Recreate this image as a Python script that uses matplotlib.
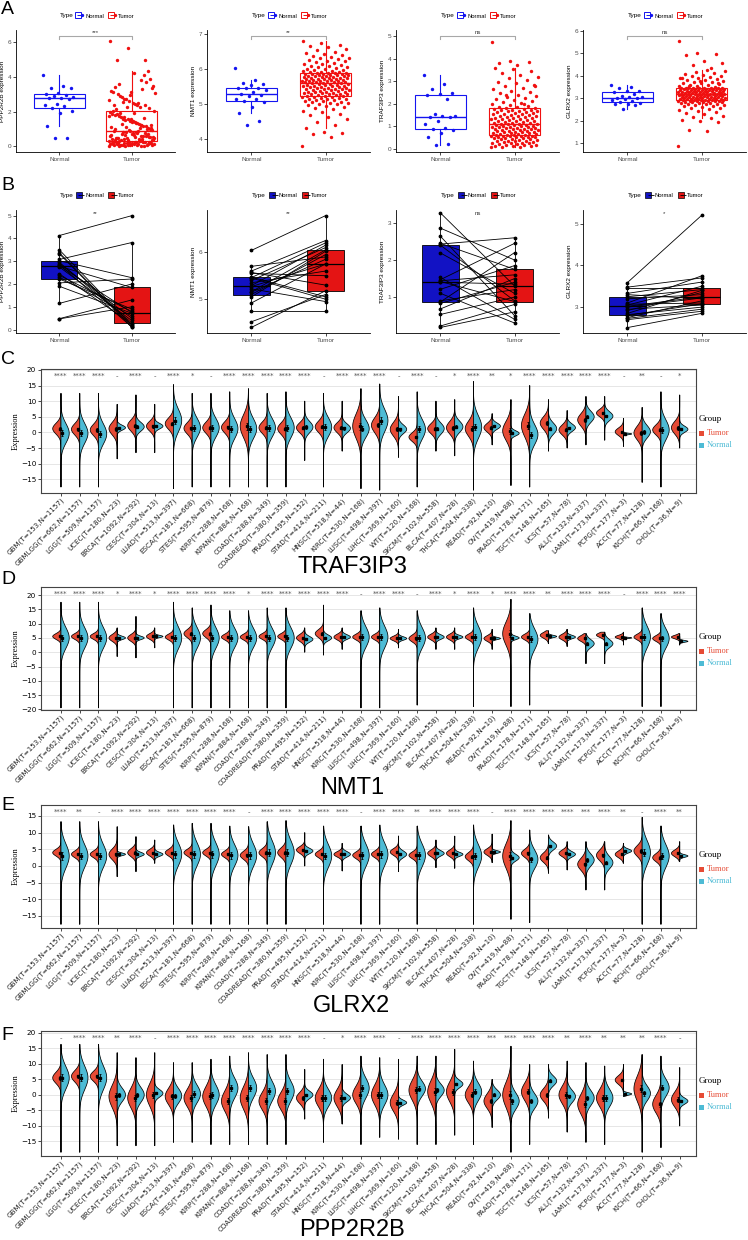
import numpy as np
import matplotlib.pyplot as plt
import matplotlib.transforms as mtrans
from matplotlib.lines import Line2D
from matplotlib.patches import Rectangle
from matplotlib.legend_handler import HandlerTuple

plt.rcParams['font.family'] = ['Liberation Sans', 'DejaVu Sans']

# ---------------- panels A / B : one cancer, normal vs tumor ----------------
groups = ['Normal', 'Tumor']

ppp_normal = [4.13, 3.5, 3.37, 3.33, 3.08, 3.02, 2.95, 2.9, 2.85, 2.8, 2.78,
              2.75, 2.45, 2.38, 2.3, 2.22, 2.05, 1.9, 1.15, 0.47, 0.48]
ppp_paired = [5.0, 0.2, 0.15, 0.1, 3.82, 2.28, 0.3, 0.5, 0.12, 0.75, 1.85,
              0.4, 0.25, 0.8, 0.6, 0.9, 2.22, 0.72, 2.0, 1.0, 1.3]
ppp_tumor = [
    0.02, 0.05, 0.03, 0.11, 0.08, 0.15, 0.04, 0.19, 0.07, 0.22, 0.12, 0.26, 0.09, 0.14, 0.28, 0.06, 0.17, 0.21, 0.10, 0.24,
    0.01, 0.13, 0.27, 0.18, 0.05, 0.23, 0.16, 0.29, 0.08, 0.20, 0.12, 0.25, 0.03, 0.19, 0.30, 0.14, 0.07, 0.22, 0.11, 0.26,
    0.33, 0.41, 0.36, 0.52, 0.47, 0.58, 0.39, 0.66, 0.44, 0.71, 0.55, 0.79, 0.35, 0.62, 0.85, 0.49, 0.74, 0.31, 0.68, 0.88,
    0.43, 0.57, 0.82, 0.38, 0.64, 0.50, 0.77, 0.46, 0.60, 0.86, 0.34, 0.53, 0.72, 0.90, 0.42, 0.67, 0.56, 0.80, 0.48, 0.63,
    0.95, 1.12, 1.03, 1.31, 1.20, 1.48, 0.98, 1.62, 1.09, 1.77, 1.36, 1.90, 1.05, 1.55, 2.02, 1.25, 1.70, 0.93, 1.42, 1.84,
    1.15, 1.58, 1.97, 1.28, 1.67, 1.01, 1.39, 1.80, 1.18, 1.51, 2.06, 1.33, 1.73, 0.97, 1.45, 1.88, 1.22, 1.60, 1.07, 1.94,
    2.15, 2.40, 2.28, 2.65, 2.52, 2.90, 2.20, 3.10, 2.35, 3.30, 2.75, 3.50, 2.45, 3.00, 3.70, 2.60, 3.20, 2.25, 2.85, 3.90,
    2.50, 3.40, 4.10, 2.70, 3.05, 2.38, 3.60, 4.35, 2.95, 3.15, 3.80, 2.55, 3.35, 4.25, 5.00, 4.98, 5.68, 6.08]

nmt1_normal = [6.04, 5.7, 5.6, 5.57, 5.55, 5.47, 5.46, 5.45, 5.4, 5.35, 5.29,
               5.27, 5.22, 5.16, 5.15, 5.1, 5.05, 4.92, 4.75, 4.52, 4.4]
nmt1_paired = [6.78, 5.9, 6.25, 5.3, 5.5, 5.05, 6.2, 5.0, 6.1, 5.6, 6.15,
               5.75, 4.95, 6.05, 5.85, 5.95, 6.02, 5.75, 4.75, 5.1, 5.18]
nmt1_tumor = [
    3.80, 4.05, 4.15, 4.18, 4.20, 4.32, 4.41, 4.50, 4.57, 4.63, 4.68, 4.72, 4.77, 4.81, 4.85, 4.88, 4.91, 4.94, 4.97, 4.99,
    5.00, 5.02, 5.04, 5.06, 5.07, 5.08, 5.10, 5.11, 5.13, 5.14, 5.15, 5.16, 5.17, 5.18, 5.19, 5.20, 5.21, 5.22, 5.23, 5.24,
    5.26, 5.27, 5.28, 5.29, 5.29, 5.30, 5.31, 5.32, 5.33, 5.34, 5.35, 5.36, 5.36, 5.37, 5.38, 5.39, 5.40, 5.41, 5.42, 5.43,
    5.44, 5.44, 5.45, 5.46, 5.47, 5.48, 5.49, 5.50, 5.51, 5.51, 5.52, 5.53, 5.54, 5.55, 5.56, 5.57, 5.57, 5.58, 5.59, 5.60,
    5.61, 5.62, 5.63, 5.63, 5.64, 5.65, 5.65, 5.66, 5.67, 5.67, 5.68, 5.69, 5.70, 5.71, 5.71, 5.72, 5.73, 5.74, 5.74, 5.75,
    5.76, 5.77, 5.78, 5.78, 5.79, 5.80, 5.81, 5.81, 5.82, 5.83, 5.84, 5.84, 5.85, 5.86, 5.86, 5.87, 5.88, 5.88, 5.89, 5.90,
    5.91, 5.92, 5.93, 5.95, 5.96, 5.97, 5.99, 6.00, 6.01, 6.03, 6.05, 6.06, 6.08, 6.10, 6.12, 6.14, 6.15, 6.18, 6.20, 6.22,
    6.23, 6.26, 6.29, 6.31, 6.32, 6.35, 6.38, 6.41, 6.44, 6.47, 6.50, 6.54, 6.58, 6.62, 6.66, 6.70, 6.75, 6.80]

traf_normal = [3.27, 2.86, 2.64, 2.45, 2.43, 2.4, 2.19, 1.53, 1.47, 1.44, 1.42,
               1.4, 1.21, 1.1, 0.9, 0.87, 0.83, 0.68, 0.53, 0.22, 0.18]
traf_paired = [1.3, 2.0, 0.5, 1.75, 2.6, 0.9, 1.1, 0.4, 2.45, 1.6, 0.88,
               1.35, 1.85, 0.3, 1.2, 2.2, 1.4, 1.5, 1.0, 0.8, 0.6]
traf_tumor = [
    0.05, 0.07, 0.08, 0.10, 0.12, 0.13, 0.15, 0.16, 0.18, 0.20, 0.21, 0.23, 0.24, 0.26, 0.27, 0.29, 0.30, 0.32, 0.33, 0.35,
    0.36, 0.38, 0.39, 0.41, 0.42, 0.44, 0.45, 0.47, 0.48, 0.50, 0.51, 0.52, 0.53, 0.54, 0.55, 0.56, 0.57, 0.58, 0.59, 0.60,
    0.61, 0.62, 0.64, 0.65, 0.66, 0.68, 0.69, 0.70, 0.72, 0.73, 0.74, 0.76, 0.77, 0.78, 0.80, 0.81, 0.82, 0.84, 0.85, 0.86,
    0.88, 0.89, 0.90, 0.92, 0.93, 0.94, 0.96, 0.97, 0.98, 1.00, 1.01, 1.02, 1.04, 1.05, 1.06, 1.08, 1.09, 1.10, 1.11, 1.12,
    1.14, 1.16, 1.17, 1.19, 1.21, 1.23, 1.24, 1.26, 1.28, 1.30, 1.31, 1.33, 1.35, 1.37, 1.38, 1.40, 1.42, 1.44, 1.45, 1.47,
    1.49, 1.51, 1.52, 1.54, 1.56, 1.58, 1.59, 1.61, 1.63, 1.65, 1.66, 1.68, 1.70, 1.72, 1.73, 1.75, 1.77, 1.79, 1.81, 1.83,
    1.86, 1.90, 1.94, 1.98, 2.02, 2.06, 2.10, 2.15, 2.20, 2.25, 2.30, 2.35, 2.40, 2.46, 2.52, 2.58, 2.64, 2.70, 2.77, 2.84,
    2.91, 2.98, 3.05, 3.12, 3.20, 3.28, 3.36, 3.44, 3.52, 3.58, 2.00, 2.40, 2.80, 3.72, 3.80, 3.85, 3.90, 4.75]

glrx_normal = [3.59, 3.48, 3.45, 3.33, 3.3, 3.25, 3.2, 3.1, 3.07, 3.05, 3.02,
               3.0, 2.95, 2.92, 2.85, 2.82, 2.8, 2.75, 2.73, 2.7, 2.51]
glrx_paired = [5.2, 3.7, 3.45, 3.6, 3.2, 3.42, 3.3, 3.75, 3.1, 3.5, 3.25,
               3.22, 3.05, 3.35, 3.4, 3.0, 3.08, 3.15, 2.95, 2.9, 2.85]
glrx_tumor = [
    0.85, 1.55, 1.60, 1.95, 2.00, 2.03, 2.10, 2.16, 2.22, 2.28, 2.33, 2.38, 2.43, 2.47, 2.51, 2.55, 2.58, 2.61, 2.64, 2.66,
    2.68, 2.70, 2.72, 2.74, 2.75, 2.77, 2.78, 2.80, 2.81, 2.82, 2.83, 2.84, 2.85, 2.86, 2.87, 2.88, 2.88, 2.89, 2.90, 2.90,
    2.91, 2.92, 2.92, 2.93, 2.94, 2.95, 2.95, 2.96, 2.97, 2.98, 2.98, 2.99, 3.00, 3.01, 3.01, 3.02, 3.03, 3.04, 3.04, 3.05,
    3.06, 3.07, 3.07, 3.08, 3.09, 3.10, 3.10, 3.11, 3.12, 3.13, 3.13, 3.14, 3.15, 3.15, 3.16, 3.16, 3.17, 3.17, 3.18, 3.18,
    3.19, 3.20, 3.20, 3.21, 3.22, 3.23, 3.23, 3.24, 3.25, 3.26, 3.26, 3.27, 3.28, 3.29, 3.29, 3.30, 3.31, 3.32, 3.32, 3.33,
    3.34, 3.35, 3.35, 3.36, 3.37, 3.38, 3.38, 3.39, 3.40, 3.41, 3.41, 3.42, 3.43, 3.43, 3.44, 3.44, 3.45, 3.45, 3.45, 3.45,
    3.47, 3.50, 3.52, 3.55, 3.57, 3.60, 3.62, 3.65, 3.68, 3.70, 3.73, 3.76, 3.79, 3.82, 3.85, 3.88, 3.91, 3.94, 3.97, 4.00,
    4.04, 4.08, 4.12, 4.16, 4.20, 4.24, 3.53, 3.66, 3.75, 3.90, 4.35, 4.45, 4.55, 4.65, 4.90, 4.95, 5.00, 5.55]

# ---------------- panels C-F : pan-cancer split violins ----------------
cancers = ['GBM(T=153,N=1157)', 'GBMLGG(T=662,N=1157)', 'LGG(T=509,N=1157)', 'UCEC(T=180,N=23)',
           'BRCA(T=1092,N=292)', 'CESC(T=304,N=13)', 'LUAD(T=513,N=397)', 'ESCA(T=181,N=668)',
           'STES(T=595,N=879)', 'KIRP(T=288,N=168)', 'KIPAN(T=884,N=168)', 'COAD(T=288,N=349)',
           'COADREAD(T=380,N=359)', 'PRAD(T=495,N=152)', 'STAD(T=414,N=211)', 'HNSC(T=518,N=44)',
           'KIRC(T=530,N=168)', 'LUSC(T=498,N=397)', 'LIHC(T=369,N=160)', 'WT(T=120,N=168)',
           'SKCM(T=102,N=558)', 'BLCA(T=407,N=28)', 'THCA(T=504,N=338)', 'READ(T=92,N=10)',
           'OV(T=419,N=88)', 'PAAD(T=178,N=171)', 'TGCT(T=148,N=165)', 'UCS(T=57,N=78)',
           'ALL(T=132,N=337)', 'LAML(T=173,N=337)', 'PCPG(T=177,N=3)', 'ACC(T=77,N=128)',
           'KICH(T=66,N=168)', 'CHOL(T=36,N=9)']

# centre and half-height of each half violin, plus the tail range per cancer
traf_t_mu = [1.2, 1.0, 0.8, 1.2, 2.2,  2.0, 2.8, 1.3, 1.5, 1.6,  2.0, 1.5, 1.2, 1.5, 1.8,  1.5, 2.0, 2.3, 1.0, -1.5,
             1.2, 1.5, 1.2, 1.5, 0.5,  2.2, 3.0, 0.8, 4.0, 6.2,  0.2, -0.2, 0.8, 1.5]
traf_t_spr = [4.3, 4.5, 4.5, 5.0, 4.5,  4.0, 4.5, 4.5, 4.5, 4.5,  9.0, 4.5, 4.5, 4.0, 4.5,  4.0, 9.5, 6.0, 5.5, 3.5,
              4.0, 5.0, 6.0, 3.5, 7.5,  9.0, 5.0, 4.0, 5.0, 3.0,  3.0, 5.5, 4.0, 5.0]
traf_n_mu = [-0.3, -0.3, -0.5, 1.5, 1.8,  2.0, 3.8, 1.5, 1.5, 1.2,  1.2, 1.5, 1.5, 1.7, 1.7,  1.3, 1.2, 3.8, 1.0, 1.0,
             1.2, 1.8, 1.7, 2.0, -0.3,  -0.7, 1.2, 1.5, 5.0, 5.2,  -0.5, 0.2, 0.8, 1.0]
traf_n_spr = [7.8, 8.0, 8.0, 2.0, 3.5,  2.2, 9.0, 7.5, 7.5, 8.0,  8.0, 7.5, 8.0, 4.5, 7.5,  3.5, 7.0, 9.0, 3.5, 8.0,
              4.5, 4.5, 9.0, 2.5, 2.0,  8.0, 4.5, 3.0, 4.5, 3.5,  0.6, 5.0, 8.0, 2.5]
traf_lo = [-17.5, -17.5, -17.5, -8.5, -6.5,  -6.5, -18.0, -17.5, -17.5, -17.5,  -17.5, -17.5, -17.5, -9.0, -17.5,
           -6.0, -18.0, -18.5, -8.0, -17.5,  -6.0, -7.5, -18.5, -4.0, -17.0,  -17.5, -6.0, -5.0, -4.0, -2.5,
           -4.5, -16.0, -17.5, -5.0]
traf_hi = [12.5, 12.5, 12.5, 9.0, 12.0,  9.0, 15.3, 12.5, 12.5, 13.0,  14.0, 12.5, 13.0, 10.0, 12.5,
           10.0, 14.0, 15.5, 11.5, 13.0,  10.0, 10.5, 16.3, 6.0, 10.5,  15.0, 10.5, 7.0, 11.5, 11.5,
           4.5, 8.0, 13.0, 12.0]
traf_sig = ['****', '****', '****', '-', '****', '-', '****', '*', '-', '****',
            '****', '****', '****', '****', '-', '****', '****', '****', '-', '****',
            '-', '*', '****', '**', '*', '****', '****', '****', '****', '****',
            '-', '**', '-', '*']

nmt1_t_mu = [5.5, 5.5, 5.5, 5.0, 5.0,  5.5, 5.3, 6.5, 6.5, 5.3,  5.3, 5.5, 5.5, 5.0, 6.5,  5.3, 5.3, 5.3, 4.8, 4.8,
             5.3, 5.3, 5.3, 4.8, 6.5,  5.3, 5.9, 5.3, 4.8, 6.0,  5.3, 5.3, 4.8, 5.3]
nmt1_t_spr = [2.5, 2.5, 2.5, 3.0, 3.0,  2.5, 2.5, 3.5, 3.5, 2.5,  2.5, 2.5, 2.5, 3.0, 3.5,  2.5, 2.5, 2.5, 2.0, 3.0,
              2.5, 2.5, 2.5, 2.5, 10.0,  2.5, 2.5, 2.5, 2.5, 2.0,  1.5, 2.5, 2.5, 1.5]
nmt1_n_mu = [5.0, 5.0, 5.0, 5.0, 5.0,  5.5, 5.0, 5.0, 5.0, 5.0,  5.0, 5.0, 5.0, 4.5, 5.0,  5.3, 5.3, 5.3, 4.8, 5.0,
             5.3, 5.3, 5.3, 4.8, 5.0,  4.5, 5.5, 5.3, 3.0, 3.0,  5.0, 5.3, 4.8, 3.8]
nmt1_n_spr = [9.0, 9.0, 9.0, 1.5, 1.5,  1.0, 9.5, 9.0, 9.0, 8.5,  8.5, 8.5, 9.0, 2.5, 2.5,  2.0, 9.0, 9.5, 1.5, 9.0,
              2.0, 1.5, 9.5, 1.0, 1.5,  9.0, 1.0, 1.5, 3.5, 3.5,  0.5, 9.5, 8.5, 0.8]
nmt1_lo = [-19.5, -19.5, -19.5, -1.5, -2.0,  1.5, -19.5, -19.5, -19.5, -19.5,  -19.5, -19.5, -19.5, 0.0, -1.0,
           1.0, -19.5, -19.5, 1.5, -18.5,  1.0, 1.0, -19.0, 1.0, -19.0,  -18.5, 3.0, 2.0, -4.0, -4.0,
           2.5, -19.0, -19.0, 2.5]
nmt1_hi = [17.5, 17.5, 17.5, 8.5, 12.5,  8.5, 17.5, 15.5, 16.5, 14.5,  14.5, 15.5, 15.5, 8.5, 16.5,
           8.5, 14.5, 15.5, 8.0, 14.5,  8.5, 8.5, 15.5, 8.0, 18.5,  13.5, 7.5, 8.0, 6.5, 7.0,
           7.0, 15.5, 13.5, 6.5]
nmt1_sig = ['****', '****', '****', '*', '****', '*', '****', '****', '****', '****',
            '*', '****', '****', '****', '****', '****', '-', '****', '****', '-',
            '****', '*', '****', '*', '****', '****', '**', '****', '****', '****',
            '-', '****', '****', '****']

glrx_t_mu = [4.0, 3.5, 3.5, 3.5, 4.0,  4.0, 4.0, 4.0, 4.0, 3.5,  3.2, 4.0, 4.0, 4.8, 3.5,  3.5, 3.2, 3.5, 4.2, 3.2,
             3.8, 3.8, 2.8, 4.2, 3.0,  3.8, 2.5, 3.8, 0.5, 3.2,  3.5, 4.5, 2.5, 3.8]
glrx_t_spr = [2.5, 2.5, 2.5, 4.0, 3.0,  2.5, 2.5, 2.5, 2.5, 2.5,  3.0, 3.0, 3.5, 2.5, 2.5,  2.0, 2.5, 2.5, 2.5, 2.5,
              2.5, 2.5, 3.0, 2.5, 9.0,  3.0, 3.5, 2.5, 4.5, 4.0,  2.5, 4.0, 3.0, 2.5]
glrx_n_mu = [3.0, 3.0, 3.0, 3.5, 3.5,  3.5, 3.5, 3.5, 3.5, 3.2,  3.2, 4.0, 4.0, 4.5, 3.0,  3.5, 3.2, 3.5, 3.5, 3.2,
             3.8, 3.5, 3.0, 4.2, 2.5,  2.0, 6.0, 3.5, 1.8, 1.0,  4.5, 4.0, 3.0, 3.0]
glrx_n_spr = [9.0, 8.5, 8.5, 1.0, 1.5,  1.5, 8.5, 8.5, 8.5, 8.0,  8.5, 9.0, 9.0, 2.0, 8.5,  2.0, 8.5, 8.5, 2.5, 8.5,
              2.0, 1.5, 8.5, 1.0, 2.5,  7.0, 3.0, 2.0, 4.5, 4.5,  1.5, 9.0, 8.5, 1.0]
glrx_lo = [-17.5, -17.5, -17.5, -3.2, -1.7,  0.8, -17.5, -17.5, -17.5, -17.5,  -17.5, -17.5, -17.5, 0.0, -17.5,
           -1.5, -17.5, -17.5, -1.7, -17.5,  -0.5, -0.7, -17.5, 1.0, -16.0,  -17.0, -2.2, -1.2, -7.2, -7.2,
           0.8, -17.5, -17.5, 1.3]
glrx_hi = [13.3, 13.3, 13.3, 11.8, 8.8,  7.8, 12.3, 12.8, 12.8, 12.0,  11.8, 13.3, 13.6, 10.0, 12.0,
           6.8, 12.0, 12.3, 9.0, 12.0,  7.8, 9.0, 12.3, 9.6, 13.6,  10.8, 9.3, 7.3, 7.3, 7.3,
           6.8, 14.6, 12.0, 7.3]
glrx_sig = ['****', '**', '-', '****', '****', '****', '****', '****', '****', '****',
            '-', '****', '****', '****', '****', '****', '-', '****', '****', '**',
            '****', '****', '****', '-', '****', '****', '****', '****', '***', '****',
            '**', '-', '****', '**']

ppp_t_mu = [5.5, 6.0, 6.0, -0.5, -1.0,  0.0, -0.5, -1.0, -0.5, -2.0,  -1.0, -2.0, -2.0, -1.0, -1.0,
            -1.0, 0.0, 0.0, -2.5, 1.5,  1.0, 1.0, 0.0, -2.0, 0.0,  1.0, 0.0, 0.0, -3.0, -1.0,
            4.8, 2.0, -3.0, -1.5]
ppp_t_spr = [4.5, 4.5, 4.0, 9.0, 8.0,  9.0, 6.5, 7.0, 8.0, 8.0,  9.0, 7.0, 7.0, 4.5, 7.0,  7.0, 7.0, 8.0, 7.0, 8.0,
             9.0, 8.0, 6.5, 6.0, 10.0,  7.0, 5.0, 7.0, 8.0, 7.0,  3.5, 10.0, 7.0, 6.0]
ppp_n_mu = [5.5, 5.5, 5.5, 0.0, 0.0,  0.5, -0.3, 0.3, 0.0, 2.2,  2.2, 1.2, 1.2, 0.0, -1.0,  -1.0, 2.2, 0.0, -2.5, 2.0,
            1.5, 3.5, 1.0, 0.0, -2.0,  -2.0, 4.5, -0.5, -1.0, -1.0,  0.3, 0.5, 2.3, -2.0]
ppp_n_spr = [9.0, 9.5, 9.5, 5.5, 6.0,  3.0, 6.0, 7.0, 8.0, 8.0,  8.0, 8.0, 8.0, 3.0, 7.0,  3.0, 8.0, 8.0, 2.0, 6.0,
             5.0, 3.0, 7.0, 4.0, 6.5,  6.0, 4.0, 5.0, 6.0, 7.0,  1.0, 6.0, 7.0, 2.5]
ppp_lo = [-18.5, -18.5, -18.5, -16.4, -16.4,  -16.4, -15.3, -15.3, -16.0, -16.0,  -16.0, -16.0, -16.0, -7.8, -15.3,
          -9.4, -16.0, -13.7, -14.3, -16.0,  -16.0, -13.0, -16.0, -10.5, -18.5,  -16.0, -7.5, -12.0, -15.3, -16.0,
          -0.5, -18.5, -17.0, -10.0]
ppp_hi = [16.3, 16.3, 16.3, 13.6, 12.0,  13.6, 10.4, 10.4, 11.5, 12.5,  13.6, 13.0, 13.0, 8.2, 11.5,
          9.8, 12.5, 12.0, 11.5, 12.5,  12.5, 14.7, 10.9, 5.0, 15.7,  9.8, 9.8, 10.9, 10.4, 9.3,
          9.8, 13.0, 12.5, 8.8]
ppp_sig = ['-', '****', '****', '**', '****', '-', '****', '****', '****', '****',
           '****', '****', '****', '****', '-', '*', '****', '****', '-', '****',
           '****', '****', '****', '***', '****', '****', '****', '**', '****', '**',
           '**', '**', '****', '-']

# ---------------- drawing ----------------
W, H = 748, 1240
fig = plt.figure(figsize=(W / 100, H / 100), dpi=100)

BLUE, RED = '#1414F0', '#F01010'
BBLUE, BRED = '#1212C4', '#E41414'
VRED, VBLUE = '#E64B35', '#4DBBD5'


def add_ax(l, t, r, b):
    return fig.add_axes([l / W, 1 - b / H, (r - l) / W, (b - t) / H])


def style_ab(ax, gene, ylim, yticks):
    ax.set_xlim(0.4, 2.6)
    ax.set_ylim(*ylim)
    ax.set_yticks(yticks)
    ax.set_xticks([1, 2])
    ax.set_xticklabels(groups)
    for s in ['top', 'right']:
        ax.spines[s].set_visible(False)
    for s in ['left', 'bottom']:
        ax.spines[s].set_linewidth(0.6)
    ax.tick_params(length=2, width=0.5, labelsize=4.6, pad=1.5, labelcolor='#4D4D4D')
    ax.set_ylabel(gene + ' expression', fontsize=4.6, labelpad=1.5)


def type_legend(ax, handles):
    ax.text(0.32, 1.115, 'Type', transform=ax.transAxes, fontsize=4.6, ha='center', va='center')
    ax.legend(handles, groups, handler_map={tuple: HandlerTuple(ndivide=None)}, ncol=2,
              loc='center', bbox_to_anchor=(0.565, 1.115), frameon=False, fontsize=4.2,
              handlelength=1.0, handletextpad=0.4, columnspacing=1.0, borderpad=0, borderaxespad=0)


def panel_a(ax, normal, tumor, gene, sig, ylim, yticks, br_y):
    bp = ax.boxplot([normal, tumor], positions=[1, 2], widths=0.7, showfliers=False,
                    showcaps=False, patch_artist=True, whis=1.5)
    for k, c in enumerate([BLUE, RED]):
        bp['boxes'][k].set(facecolor='none', edgecolor=c, linewidth=0.8)
        bp['medians'][k].set(color=c, linewidth=1.0)
        for w in bp['whiskers'][2 * k:2 * k + 2]:
            w.set(color=c, linewidth=0.8)
    for k, (vals, c, jw) in enumerate([(normal, BLUE, 0.22), (tumor, RED, 0.32)]):
        jit = ((np.arange(len(vals)) * 0.6180339887) % 1.0 - 0.5) * 2 * jw
        ax.scatter(k + 1 + jit, vals, s=6, color=c, lw=0, zorder=3)
    tick = 0.025 * (ylim[1] - ylim[0])
    ax.plot([1, 1, 2, 2], [br_y - tick, br_y, br_y, br_y - tick], color='#A8A8A8', lw=0.8)
    ax.text(1.5, br_y + tick * 0.2, sig, ha='center', va='bottom', fontsize=4.3, color='#333333')
    style_ab(ax, gene, ylim, yticks)
    hs = [(Line2D([], [], marker='s', ms=4.5, mfc='white', mec=c, mew=0.7, ls=''),
           Line2D([], [], marker='_', ms=4.5, color=c, mew=0.7, ls=''),
           Line2D([], [], marker='o', ms=1.4, color=c, ls='')) for c in [BLUE, RED]]
    type_legend(ax, hs)


def panel_b(ax, normal, tumor, gene, sig, ylim, yticks):
    bp = ax.boxplot([normal, tumor], positions=[1, 2], widths=0.5, showfliers=False,
                    showcaps=False, patch_artist=True, whis=1.5)
    for k, c in enumerate([BBLUE, BRED]):
        bp['boxes'][k].set(facecolor=c, edgecolor='black', linewidth=0.6)
        bp['medians'][k].set(color='black', linewidth=0.9)
    for w in bp['whiskers']:
        w.set(color='black', linewidth=0.6)
    for a, b in zip(normal, tumor):
        ax.plot([1, 2], [a, b], color='black', lw=0.6, zorder=3)
    ax.scatter(np.ones(len(normal)), normal, s=3, color='black', zorder=4)
    ax.scatter(np.full(len(tumor), 2.0), tumor, s=3, color='black', zorder=4)
    tr = mtrans.blended_transform_factory(ax.transData, ax.transAxes)
    ax.text(1.5, 0.99, sig, transform=tr, ha='center', va='top', fontsize=4.3, color='#333333')
    style_ab(ax, gene, ylim, yticks)
    hs = [(Line2D([], [], marker='s', ms=4.5, mfc=c, mec='black', mew=0.5, ls=''),
           Line2D([], [], marker='_', ms=4.5, color='black', mew=0.6, ls='')) for c in [BBLUE, BRED]]
    type_legend(ax, hs)


def violin_panel(top, bottom, t_mu, t_spr, n_mu, n_spr, lo, hi, sig, ylim, yticks, title, title_y):
    ax = add_ax(41, top, 696, bottom)
    pos = np.arange(1, len(cancers) + 1)
    for i in range(len(cancers)):
        for mu, spr, side, col in [(t_mu[i], t_spr[i], -1, VRED), (n_mu[i], n_spr[i], 1, VBLUE)]:
            yy = np.linspace(lo[i], hi[i], 400)
            ww = 0.44 * np.exp(-0.5 * ((yy - mu) / (spr / 2.5)) ** 2)
            ax.fill(np.r_[pos[i], pos[i] + side * ww, pos[i]], np.r_[lo[i], yy, hi[i]],
                    facecolor=col, edgecolor='black', lw=0.55, zorder=2)
            ax.errorbar(pos[i] + side * 0.07, mu, yerr=spr * 0.12, fmt='s', ms=1.5, color='black',
                        elinewidth=0.6, capsize=1.0, capthick=0.6, zorder=3)
    tr = mtrans.blended_transform_factory(ax.transData, ax.transAxes)
    for i, s in enumerate(sig):
        ax.text(pos[i], 0.945, s, transform=tr, ha='center', va='center', fontsize=5,
                color='#555555', family='DejaVu Sans')
    ax.set_xlim(-0.065, 34.87)
    ax.set_ylim(*ylim)
    ax.set_yticks(yticks)
    ax.set_xticks(pos)
    ax.set_xticklabels(cancers, rotation=45, ha='right', rotation_mode='anchor',
                       fontsize=5.1, family='DejaVu Sans', color='#222222')
    for lab in ax.get_yticklabels():
        lab.set_family('DejaVu Sans')
    ax.tick_params(axis='y', length=2, width=0.5, labelsize=5.2, pad=1.5)
    ax.tick_params(axis='x', length=2, width=0.5, pad=0.8)
    ax.yaxis.grid(True, color='#E6E6E6', lw=0.7)
    ax.set_axisbelow(True)
    for s in ax.spines.values():
        s.set_color('#444444')
        s.set_linewidth(0.8)
    ax.set_ylabel('Expression', family='Liberation Serif', fontsize=6, labelpad=1)
    # group legend at the right
    fig.text(699 / W, 1 - (top + 50) / H, 'Group', family='Liberation Serif', fontsize=6.5, va='center')
    for dy, lab, col in [(64, 'Tumor', VRED), (76, 'Normal', VBLUE)]:
        fig.patches.append(Rectangle((699 / W, 1 - (top + dy + 2.5) / H), 5 / W, 5 / H,
                                     transform=fig.transFigure, facecolor=col, edgecolor='none'))
        fig.text(707 / W, 1 - (top + dy) / H, lab, family='Liberation Serif', fontsize=6,
                 color=col, va='center')
    fig.text(352 / W, 1 - title_y / H, title, fontsize=17, ha='center', va='center')
    return ax


a_x = [(16, 175), (207, 370), (396, 559), (583, 746)]

panel_a(add_ax(a_x[0][0], 30, a_x[0][1], 152), ppp_normal, ppp_tumor, 'PPP2R2B', '***',
        (-0.33, 6.7), [0, 2, 4, 6], 6.35)
panel_a(add_ax(a_x[1][0], 30, a_x[1][1], 152), nmt1_normal, nmt1_tumor, 'NMT1', '**',
        (3.63, 7.12), [4, 5, 6, 7], 6.95)
panel_a(add_ax(a_x[2][0], 30, a_x[2][1], 152), traf_normal, traf_tumor, 'TRAF3IP3', 'ns',
        (-0.15, 5.27), [0, 1, 2, 3, 4, 5], 5.02)
panel_a(add_ax(a_x[3][0], 30, a_x[3][1], 152), glrx_normal, glrx_tumor, 'GLRX2', 'ns',
        (0.6, 6.03), [1, 2, 3, 4, 5, 6], 5.76)

panel_b(add_ax(a_x[0][0], 210, a_x[0][1], 333), ppp_normal, ppp_paired, 'PPP2R2B', '**',
        (-0.15, 5.25), [0, 1, 2, 3, 4, 5])
panel_b(add_ax(a_x[1][0], 210, a_x[1][1], 333), nmt1_normal, nmt1_paired, 'NMT1', '**',
        (4.28, 6.9), [5, 6])
panel_b(add_ax(a_x[2][0], 210, a_x[2][1], 333), traf_normal, traf_paired, 'TRAF3IP3', 'ns',
        (0.03, 3.35), [1, 2, 3])
panel_b(add_ax(a_x[3][0], 210, a_x[3][1], 333), glrx_normal, glrx_paired, 'GLRX2', '*',
        (2.38, 5.33), [3, 4, 5])

violin_panel(369, 493, traf_t_mu, traf_t_spr, traf_n_mu, traf_n_spr, traf_lo, traf_hi, traf_sig,
             (-19.4, 20.3), np.arange(-15, 21, 5), 'TRAF3IP3', 567)
violin_panel(587, 710, nmt1_t_mu, nmt1_t_spr, nmt1_n_mu, nmt1_n_spr, nmt1_lo, nmt1_hi, nmt1_sig,
             (-20.2, 22.8), np.arange(-20, 21, 5), 'NMT1', 788)
violin_panel(805, 928, glrx_t_mu, glrx_t_spr, glrx_n_mu, glrx_n_spr, glrx_lo, glrx_hi, glrx_sig,
             (-18.6, 18.3), np.arange(-15, 16, 5), 'GLRX2', 1006)
violin_panel(1031, 1156, ppp_t_mu, ppp_t_spr, ppp_n_mu, ppp_n_spr, ppp_lo, ppp_hi, ppp_sig,
             (-19.7, 20.6), np.arange(-15, 21, 5), 'PPP2R2B', 1230)

for letter, y in [('A', 9), ('B', 185), ('C', 360), ('D', 579), ('E', 806), ('F', 1036)]:
    fig.text(1 / W, 1 - y / H, letter, fontsize=14, va='center', ha='left')

fig.savefig('out.png', dpi=100)
